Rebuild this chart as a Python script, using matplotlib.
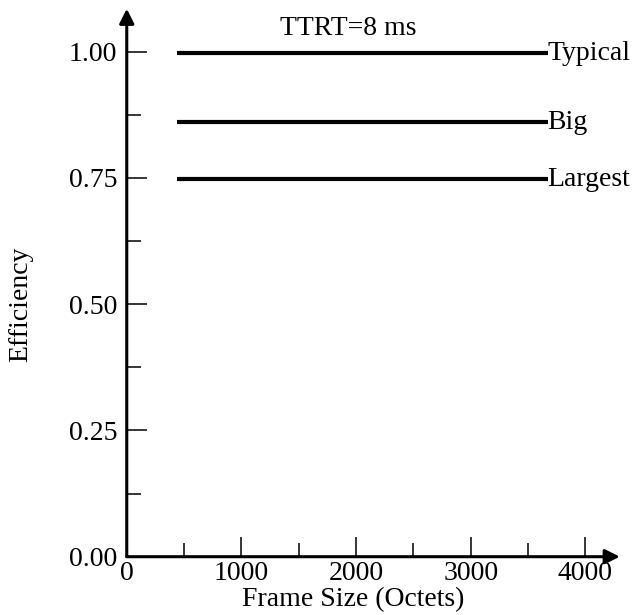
"""
Efficiency vs frame size at TTRT = 8 ms (flat curves, one per frame class).
"""
import matplotlib
matplotlib.use("Agg")
import matplotlib.pyplot as plt
from matplotlib.ticker import MultipleLocator

# Frame-size span covered by each curve (octets) and efficiency per class.
frame_span = [440, 3670]
classes = ["Typical", "Big", "Largest"]
efficiency = [0.997, 0.86, 0.747]

x_ticks = [0, 1000, 2000, 3000, 4000]
y_ticks = [0.00, 0.25, 0.50, 0.75, 1.00]

plt.rcParams.update({
    "font.family": ["Liberation Serif", "DejaVu Serif"],
    "font.size": 20,
})

fig = plt.figure(figsize=(6.37, 6.15), dpi=100)
ax = fig.add_axes([0.199, 0.0948, 0.774, 0.891])
ax.set_xlim(0, 4300)
ax.set_ylim(0, 1.085)

for name, eff in zip(classes, efficiency):
    ax.plot(frame_span, [eff, eff], color="black", lw=3.0, solid_capstyle="butt")
    ax.text(frame_span[1], eff, name, ha="left", va="center", fontsize=20)

ax.text(1930, 1.045, "TTRT=8 ms", ha="center", va="center", fontsize=20)

# axes drawn as arrows instead of spines
for s in ax.spines.values():
    s.set_visible(False)
ax.annotate("", xy=(4300, 0), xytext=(0, 0), xycoords="data",
            arrowprops=dict(arrowstyle="-|>", color="black", lw=2.2,
                            mutation_scale=22, shrinkA=0, shrinkB=0),
            annotation_clip=False)
ax.annotate("", xy=(0, 1.085), xytext=(0, 0), xycoords="data",
            arrowprops=dict(arrowstyle="-|>", color="black", lw=2.2,
                            mutation_scale=22, shrinkA=0, shrinkB=0),
            annotation_clip=False)

ax.set_xticks(x_ticks)
ax.set_xticklabels([str(v) for v in x_ticks])
ax.set_yticks(y_ticks)
ax.set_yticklabels([f"{v:.2f}" for v in y_ticks])
ax.xaxis.set_minor_locator(MultipleLocator(500))
ax.yaxis.set_minor_locator(MultipleLocator(0.125))
ax.tick_params(which="major", direction="in", length=14.5, width=1.1,
               labelsize=20)
ax.tick_params(which="minor", direction="in", length=10, width=1.1)
ax.tick_params(axis="x", which="major", pad=3)
ax.tick_params(axis="y", which="major", pad=7)

ax.set_xlabel("Frame Size (Octets)", fontsize=20)
ax.set_ylabel("Efficiency", fontsize=20)
ax.xaxis.set_label_coords(0.459, -0.055)
ax.yaxis.set_label_coords(-0.19, 0.461)

fig.savefig("out.png", dpi=100)
